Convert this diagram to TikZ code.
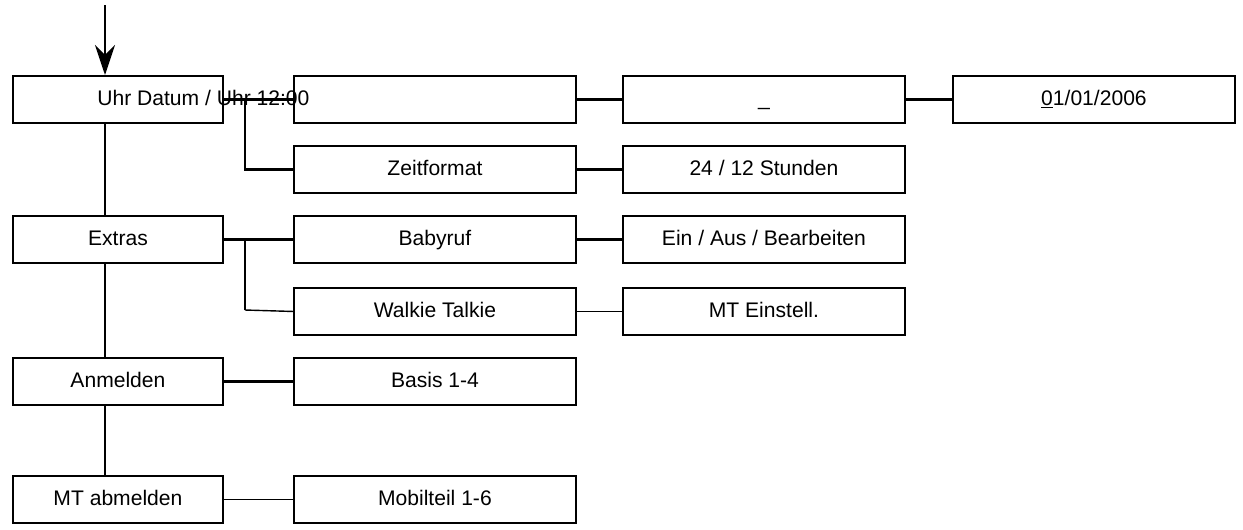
\documentclass[tikz,border=0pt]{standalone}
\usepackage{fontspec}
\setmainfont{Liberation Sans}
\usetikzlibrary{arrows,arrows.meta,calc,positioning}
\tikzset{
    menu/.style={
	anchor=north west,
	rectangle,
	draw=black,
	line width=1.1pt,
	minimum width=4.2cm,
	minimum height=0.94cm,
	inner sep=0pt,
	text height=1.6ex,
	text depth=0.4ex,
	font=\fontsize{12}{14}\selectfont
    },
    sub/.style={
	menu,
	minimum width=5.64cm
    },
    link/.style={
	draw=black,
	line width=1.6pt
    },
    thin link/.style={
	draw=black,
	line width=0.8pt
    },
}

\begin{document}
\begin{tikzpicture}[>={Stealth[length=0.6cm,width=0.4cm]}, x=0.02cm, y=-0.02cm]
    \useasboundingbox (0,0) rectangle (1243,529);

    \node[menu] (UHR) at (12,75) {};
    \node[menu] (EXTRAS) at (12,215) {Extras};
    \node[menu] (ANMELDEN) at (12,357) {Anmelden};
    \node[menu] (ABMELDEN) at (12,475) {MT abmelden};

    \node[sub] (ZEIT) at (293,75) {};
    \node[sub] (FORMAT) at (293,145) {Zeitformat};
    \node[sub] (BABY) at (293,215) {Babyruf};
    \node[sub] (WALKIE) at (293,287) {Walkie Talkie};
    \node[sub] (BASIS) at (293,357) {Basis 1-4};
    \node[sub] (MOBIL) at (293,475) {Mobilteil 1-6};

    \node[sub] (CURSOR) at (622,75) {\textunderscore};
    \node[sub] (STUNDEN) at (622,145) {24 / 12 Stunden};
    \node[sub] (EINAUS) at (622,215) {Ein / Aus / Bearbeiten};
    \node[sub] (EINSTELL) at (622,287) {MT Einstell.};

    \node[sub] (DATUM) at (952,75) {\underline{0}1/01/2006};

    \coordinate (IN) at (105,5);
    \coordinate (FORK1) at (245,98);
    \coordinate (FORK2) at (245,238);

    \draw[link,->] (IN) -- (UHR.north -| IN);
    \draw[link] (UHR.south -| IN) -- (EXTRAS.north -| IN);
    \draw[link] (EXTRAS.south -| IN) -- (ANMELDEN.north -| IN);
    \draw[link] (ANMELDEN.south -| IN) -- (ABMELDEN.north -| IN);

    \draw[link] (UHR.east) -- (ZEIT.west);
    \draw[link] (FORK1) |- (FORMAT.west);
    \draw[link] (ZEIT) -- (CURSOR);
    \draw[link] (CURSOR) -- (DATUM);
    \draw[link] (FORMAT) -- (STUNDEN);

    \draw[link] (EXTRAS) -- (BABY);
    \draw[link] (FORK2) -- ($(FORK2)+(0,72)$);
    \draw[thin link] ($(FORK2)+(0,72)$) -- (WALKIE.west);
    \draw[link] (BABY) -- (EINAUS);
    \draw[thin link] (WALKIE) -- (EINSTELL);

    \draw[link] (ANMELDEN) -- (BASIS);
    \draw[thin link] (ABMELDEN) -- (MOBIL);

    % text runs over the fork
    \node[anchor=west, inner sep=0pt, font=\fontsize{12}{14}\selectfont]
	(UHRTEXT) at (97,98) {Uhr Datum / Uhr 12:00};
\end{tikzpicture}
\end{document}
